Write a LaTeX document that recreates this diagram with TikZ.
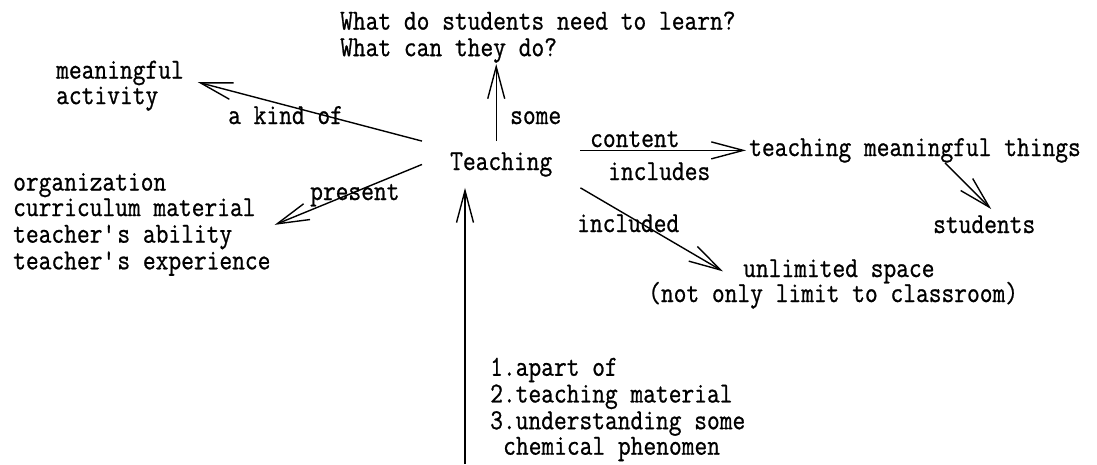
\documentclass[tikz,border=0pt]{standalone}
\usepackage{fontspec}
\newfontfamily\diafont{Latin Modern Mono}[FakeStretch=0.854, FakeBold=0.8]
\usetikzlibrary{arrows.meta}
\tikzset{
  txt/.style={font=\diafont\fontsize{29}{25.5}\selectfont, inner sep=0pt},
  blk/.style={txt, align=left, anchor=north west},
  arr/.style={-{Straight Barb[length=32pt,width=17pt]}, line width=1.4pt},
}
\begin{document}
\begin{tikzpicture}[x=1pt,y=-1pt]
 \useasboundingbox[fill=white] (0,0) rectangle (1097,464);
 % concepts
 \node[txt, inner xsep=28pt, inner ysep=11pt, anchor=base west] (teach) at (422,170) {Teaching};
 \node[blk] (q) at (340,11.5) {What do students need to learn?\strut\\What can they do?\strut};
 \node[blk] (mean) at (56,60.5) {meaningful\strut\\activity\strut};
 \node[blk] (org) at (13,172.5) {organization\strut\\curriculum material\strut\\teacher\textquotesingle s ability\strut\\teacher\textquotesingle s experience\strut};
 \node[txt, anchor=base west] (tmt) at (749,156) {teaching meaningful things};
 \node[txt, anchor=base west] (stu) at (933,233) {students};
 \node[txt, anchor=base west] (unl) at (743,277) {unlimited space};
 \node[txt, anchor=base west] (unlnote) at (648,302) {(not only limit to classroom)};
 \node[blk] (bl) at (490,357.5) {1.apart of\strut\\2.teaching material\strut\\3.understanding some\strut\\\hspace*{13pt}chemical phenomen\strut};
 \coordinate (bot) at (465,464); % line comes in from the lower edge
 % links and their labels
 \draw[arr] ([xshift=-5pt]teach.north) -- ([xshift=-5pt]teach.north |- q.south);
 \node[txt, anchor=base west] (some) at (510,124) {some};
 \draw[arr] (teach.north west) -- ([shift={(14,-4)}]mean.east);
 \node[txt, anchor=base west] (kind) at (228,124) {a kind of};
 \draw[arr] (teach.west) -- ([xshift=4pt]org.east);
 \node[txt, anchor=base west] (pres) at (310,200) {present};
 \draw[arr] (teach.east |- tmt.west) -- ([xshift=-3pt]tmt.west);
 \node[txt, anchor=base west] (cont) at (590,147) {content};
 \node[txt, anchor=base west] (incl) at (608,180) {includes};
 \draw[arr] (teach.south east) -- ([xshift=-20pt]unl.west);
 \node[txt, anchor=base west] (incd) at (577,232) {included};
 \draw[arr] ([xshift=30pt]tmt.south) -- ([shift={(7,-6)}]stu.north);
 \draw[arr] (bot) -- (bot |- teach.south);
\end{tikzpicture}
\end{document}
